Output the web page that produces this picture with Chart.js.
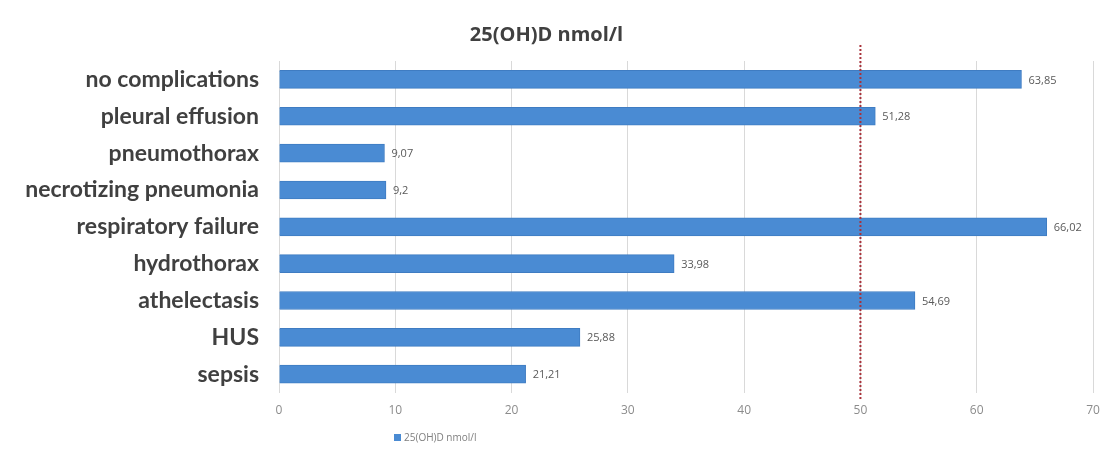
<!DOCTYPE html>
<html lang="en">
<head>
<meta charset="UTF-8">
<title>25(OH)D nmol/l</title>
<style>
  body { margin: 0; background: #fff; }
  #wrap { width: 1106px; height: 455px; position: relative; }
</style>
</head>
<body>
<div id="wrap"><canvas id="myChart"></canvas></div>
<script src="https://cdn.jsdelivr.net/npm/chart.js"></script>
<script>
// data (top to bottom)
const categories = ['no complications', 'pleural effusion', 'pneumothorax', 'necrotizing pneumonia',
  'respiratory failure', 'hydrothorax', 'athelectasis', 'HUS', 'sepsis'];
const values = [63.85, 51.28, 9.07, 9.2, 66.02, 33.98, 54.69, 25.88, 21.21];
const seriesName = '25(OH)D nmol/l';
const xTicks = [0, 10, 20, 30, 40, 50, 60, 70];
const threshold = 50;

const barColor = '#4a8bd3';

// value labels at bar ends, comma decimals like the original
const valueLabels = {
  id: 'valueLabels',
  afterDatasetsDraw(chart) {
    const ctx = chart.ctx;
    const meta = chart.getDatasetMeta(0);
    ctx.save();
    ctx.font = '11px "Open Sans", sans-serif';
    ctx.fillStyle = '#595959';
    ctx.textAlign = 'left';
    ctx.textBaseline = 'middle';
    meta.data.forEach((bar, i) => {
      ctx.fillText(String(values[i]).replace('.', ','), bar.x + 7, bar.y + 1);
    });
    ctx.restore();
  }
};

// dotted reference line at 50
const refLine = {
  id: 'refLine',
  afterDatasetsDraw(chart) {
    const ctx = chart.ctx;
    const x = chart.scales.x.getPixelForValue(threshold);
    const area = chart.chartArea;
    ctx.save();
    ctx.strokeStyle = '#a8323a';
    ctx.lineWidth = 2;
    ctx.setLineDash([2, 2]);
    ctx.beginPath();
    ctx.moveTo(x, area.top - 16);
    ctx.lineTo(x, area.bottom + 8);
    ctx.stroke();
    ctx.restore();
  }
};

// small legend below the axis, left of centre as in the original
const bottomLegend = {
  id: 'bottomLegend',
  afterDraw(chart) {
    const ctx = chart.ctx;
    ctx.save();
    ctx.fillStyle = barColor;
    ctx.fillRect(394, 434, 7, 7);
    ctx.font = '10px "Open Sans", sans-serif';
    ctx.fillStyle = '#7f7f7f';
    ctx.textBaseline = 'middle';
    ctx.fillText(chart.data.datasets[0].label, 404, 438);
    ctx.restore();
  }
};

new Chart(document.getElementById('myChart'), {
  type: 'bar',
  data: {
    labels: categories,
    datasets: [{
      label: seriesName,
      data: values,
      backgroundColor: barColor,
      borderColor: '#3f7cc2',
      borderWidth: 1,
      barThickness: 18
    }]
  },
  options: {
    indexAxis: 'y',
    responsive: true,
    maintainAspectRatio: false,
    animation: false,
    layout: { padding: { top: 0, right: 13, bottom: 26, left: 0 } },
    plugins: {
      legend: { display: false },
      tooltip: { enabled: false },
      title: {
        display: true,
        text: seriesName,
        color: '#404040',
        font: { family: '"Open Sans", sans-serif', size: 20, weight: 'bold' },
        padding: { top: 23, bottom: 14 }
      }
    },
    scales: {
      x: {
        min: 0,
        max: 70,
        afterBuildTicks(axis) { axis.ticks = xTicks.map(v => ({ value: v })); },
        afterFit(axis) { axis.paddingLeft = 0; axis.paddingRight = 0; },
        grid: { color: '#d9d9d9', drawTicks: false },
        border: { display: false },
        ticks: {
          color: '#8c8c8c',
          padding: 11,
          font: { family: '"Open Sans", sans-serif', size: 12 }
        }
      },
      y: {
        afterFit(axis) { axis.width = 279; },
        grid: { display: false, drawTicks: false },
        border: { display: false },
        ticks: {
          color: '#404040',
          padding: 20,
          font: { family: 'Lato, sans-serif', size: 23, weight: 'bold' }
        }
      }
    }
  },
  plugins: [valueLabels, refLine, bottomLegend]
});
</script>
</body>
</html>
